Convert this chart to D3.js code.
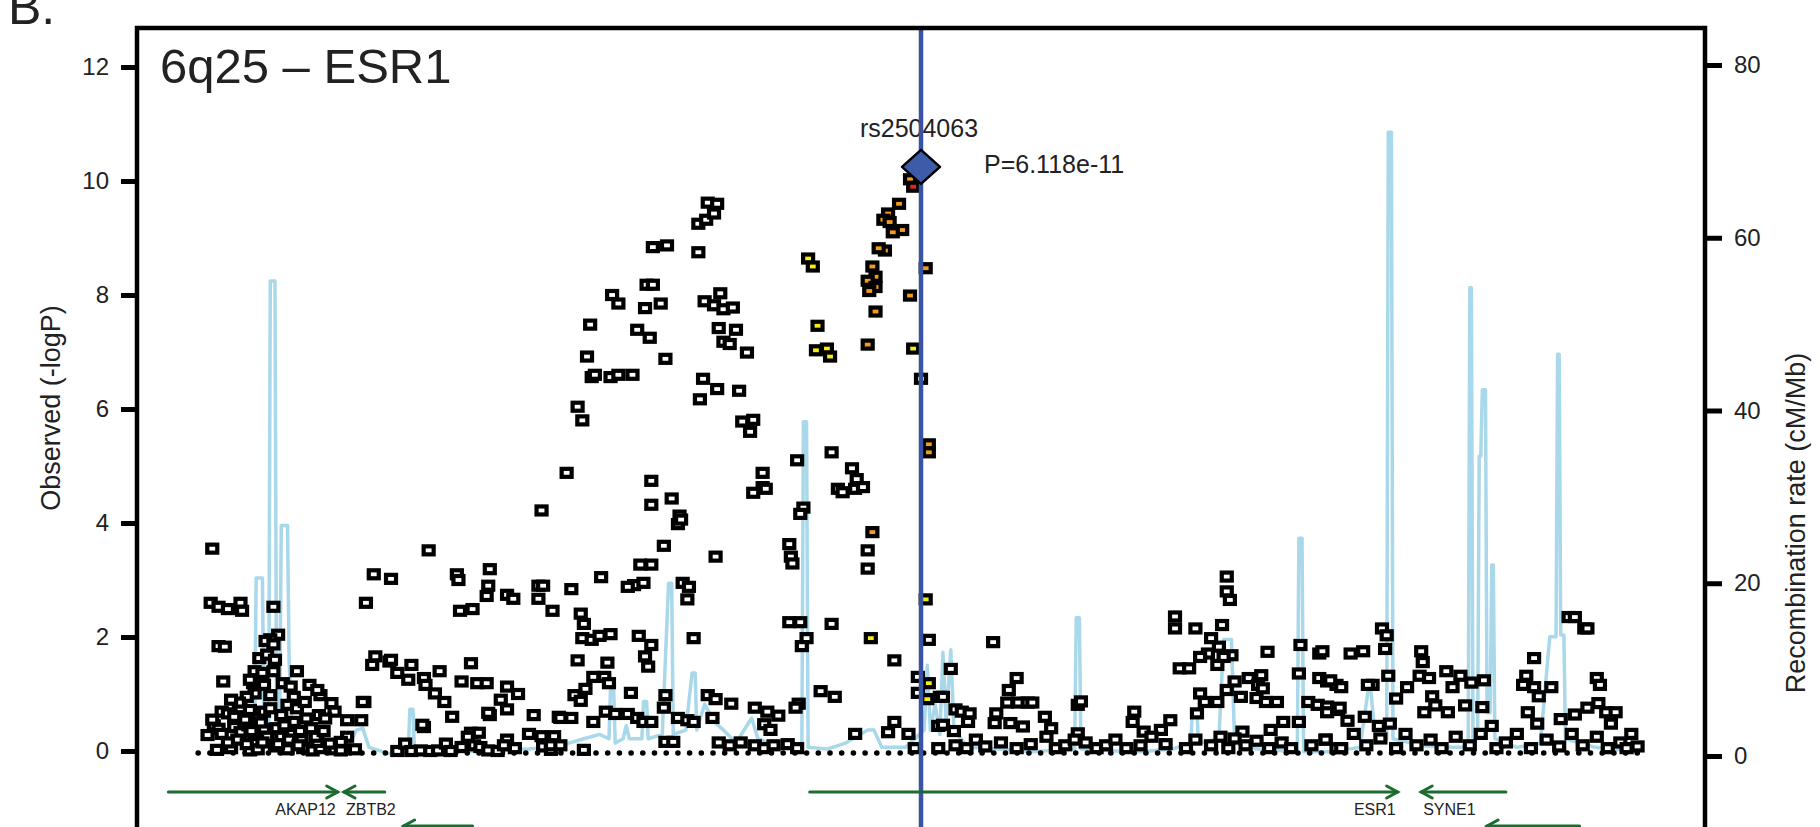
<!DOCTYPE html>
<html><head><meta charset="utf-8">
<script src="https://cdn.jsdelivr.net/npm/d3@7"></script>
<style>body{margin:0;background:#fff} svg{display:block} text{font-family:"Liberation Sans",Arial,Helvetica,sans-serif}</style>
</head><body><svg id="c" width="1820" height="827"></svg>
<script>
// ---- data: position in kb relative to rs2504063, value = -log10(P) ----
const leftTicks = [0,2,4,6,8,10,12];
const rightTicks = [0,20,40,60,80];
const titleText = "6q25 \u2013 ESR1";
const leadSnp = {name:"rs2504063", pos:0, logp:10.213, p:"P=6.118e-11"};

const blackPts = [
[-452,3.55],[-453,2.6],[-448,2.53],[-442,2.49],[-434,2.6],[-433,2.46],[-413,2.53],[-448,1.84],[-444,1.83],[-445,1.22],[-410,2.04],[-415,1.96],[-418,1.93],[-413,1.87],[-422,1.63],[-417,1.69],[-412,1.6],[-425,1.4],[-420,1.37],[-413,1.4],[-426,1.19],[-425,1.01],[-419,1.16],[-407,1.19],[-402,1.13],[-398,1.4],[-400,0.95],[-390,1.16],[-383,0.98],[-385,1.07],[-376,0.84],[-374,0.69],[-366,0.54],[-357,0.54],[-355,0.86],[-415,0.98],[-404,0.81],[-398,0.75],[-393,0.86],[-408,0.63],[-400,0.51],[-392,0.57],[-384,0.63],[-380,0.57],[-446,0.69],[-442,0.66],[-434,0.75],[-428,0.72],[-423,0.57],[-419,0.69],[-415,0.75],[-455,0.28],[-451,0.45],[-448,0.39],[-438,0.42],[-434,0.33],[-429,0.45],[-425,0.28],[-440,0.28],[-419,0.39],[-366,0.25],
[-449,0.02],[-440,0.05],[-428,0.01],[-423,0.03],[-412,0.08],[-404,0.03],[-394,0.05],[-388,0.01],[-383,0.05],[-374,0.03],[-370,0.01],[-361,0.03],
[-408,0.25],[-401,0.3],[-395,0.19],[-385,0.16],[-377,0.13],[-370,0.16],
[-452,0.55],[-446,0.3],[-438,0.6],[-436,0.2],[-431,0.55],[-427,0.35],[-421,0.5],[-417,0.25],[-411,0.4],[-406,0.45],[-403,0.2],[-396,0.35],[-389,0.4],[-386,0.25],[-381,0.35],[-442,0.15],[-430,0.12],[-420,0.15],[-410,0.12],[-397,0.1],[-430,0.95],[-428,1.25],[-435,0.85],[-440,0.9],
[-354,2.6],[-349,3.1],[-338,3.02],[-314,3.52],[-296,3.1],[-295,3.0],[-294,2.46],[-286,2.49],[-275,3.19],[-276,2.9],[-277,2.72],[-264,2.74],[-260,2.67],[-242,4.22],[-244,2.9],[-241,2.9],[-244,2.67],[-235,2.46],[-348,1.66],[-350,1.51],[-339,1.57],[-338,1.6],[-334,1.37],[-327,1.25],[-325,1.51],[-317,1.28],[-316,1.16],[-307,1.4],[-310,1.01],[-304,0.86],[-299,0.6],[-317,0.42],[-293,1.22],[-287,1.54],[-283,1.19],[-277,1.19],[-275,0.63],[-356,0.86],[-264,1.13],[-257,1.0],[-264,0.73],[-268,0.9],[-276,0.67],[-247,0.63],[-231,0.6],[-318,0.46],[-242,0.26],[-234,0.26],[-287,0.32],[-282,0.32],[-264,0.2],
[-334,0],[-329,0.13],[-325,0],[-319,0.01],[-313,0],[-308,0.01],[-303,0.13],[-300,0],[-293,0.07],[-289,0.25],[-285,0.1],[-281,0.07],[-276,0.01],[-270,0],[-266,0.1],[-259,0.05],[-250,0.3],[-241,0.08],[-236,0.02],
[-136,9.62],[-130,9.6],[-142,9.25],[-137,9.32],[-132,9.43],[-142,8.75],[-171,8.84],[-162,8.87],[-197,8.0],[-193,7.85],[-175,8.18],[-171,8.18],[-176,7.77],[-166,7.85],[-211,7.48],[-181,7.39],[-173,7.25],[-213,6.92],[-163,6.88],[-210,6.56],[-208,6.6],[-198,6.56],[-193,6.6],[-184,6.6],[-219,6.04],[-216,5.8],[-226,4.88],[-138,7.89],[-128,8.03],[-132,7.82],[-126,7.75],[-120,7.78],[-129,7.42],[-118,7.39],[-126,7.18],[-122,7.14],[-111,6.99],[-139,6.53],[-130,6.35],[-141,6.17],[-116,6.32],[-114,5.78],[-107,5.81],[-109,5.6],
[0,6.53],
[-57,5.24],[-79,5.1],[-44,4.96],[-41,4.77],[-53,4.6],[-50,4.54],[-42,4.6],[-37,4.63],[-101,4.88],[-101,4.63],[-107,4.53],[-99,4.6],[-75,4.27],[-77,4.16],[-34,3.52],[-34,3.2],[-84,3.63],[-83,3.41],[-82,3.29],[-131,3.41],[-172,4.74],[-172,4.32],[-159,4.43],[-154,4.13],[-155,3.98],[-153,4.06],[-164,3.6],[-179,3.27],[-172,3.27],[-183,2.91],[-177,2.95],[-187,2.88],[-204,3.05],[-223,2.84],[-152,2.95],[-148,2.88],[-149,2.66],[-145,1.98],[-217,2.41],[-215,2.23],[-216,1.98],[-210,1.95],[-205,2.02],[-198,2.05],[-180,2.02],[-172,1.86],[-176,1.66],[-174,1.48],[-219,1.59],[-200,1.55],[-202,1.3],[-199,1.19],[-209,1.3],[-214,1.09],[-221,0.98],[-217,0.88],[-223,0.58],[-230,0.58],[-185,1.02],[-201,0.69],[-195,0.65],[-187,0.65],[-181,0.58],[-177,0.51],[-172,0.51],[-209,0.51],[-163,0.98],[-164,0.76],[-155,0.58],[-149,0.54],[-145,0.51],[-136,0.98],[-131,0.91],[-121,0.83],[-133,0.58],[-106,0.76],[-98,0.69],[-91,0.62],[-100,0.47],[-96,0.37],[-78,0.83],[-80,0.76],[-84,2.26],[-77,2.26],[-73,1.98],[-76,1.84],[-57,2.23],[-64,1.05],[-55,0.95],[-17,1.59],[5,1.95],[19,1.44],[12,0.95],[-2,1.3],[-2,1.02],[11,0.44],[-17,0.51],[-21,0.33],[-8,0.3],[-42,0.3],[22,0.73],[21,0.35],
[-215,0.02],[-163,0.16],[-158,0.16],[-129,0.15],[-122,0.1],[-115,0.15],[-106,0.1],[-100,0.05],[-94,0.1],[-85,0.12],[-79,0.05],[-4,0.05],[11,0.05],[-236,0.1],[-230,0.1],
[46,1.91],[14,0.95],[14,0.46],[61,1.28],[56,1.07],[55,0.85],[62,0.85],[68,0.85],[71,0.85],[26,0.69],[31,0.66],[30,0.51],[48,0.66],[47,0.49],[57,0.49],[65,0.43],[79,0.6],[83,0.4],[100,0.81],[102,0.87],[100,0.31],[136,0.69],[135,0.51],[159,0.54],[153,0.37],[142,0.34],[162,2.36],[162,2.15],[175,2.15],[185,1.98],[192,2.21],[195,3.06],[195,2.8],[197,2.65],[190,1.83],[198,1.68],[183,1.71],[178,1.65],[165,1.45],[171,1.45],[189,1.51],[193,1.65],[178,1.01],[181,0.86],[176,0.66],[189,0.86],[195,1.07],[200,1.22],[204,0.95],[209,1.28],[217,1.33],[215,1.16],[218,1.1],[214,0.93],[220,0.86],[227,0.86],[221,1.74],[242,1.86],[241,1.36],[254,1.71],[254,1.28],[259,1.22],[265,1.16],[247,0.86],[253,0.81],[259,0.78],[266,0.72],[231,0.51],[241,0.51],[223,0.37],[205,0.34],[200,0.22],
[22,0.1],[29,0.05],[35,0.2],[41,0.08],[51,0.15],[61,0.05],[70,0.12],[80,0.25],[86,0.05],[92,0.1],[98,0.2],[105,0.15],[112,0.05],[118,0.1],[124,0.2],[131,0.05],[140,0.1],[147,0.25],[156,0.12],[169,0.05],[175,0.2],[185,0.1],[191,0.25],[196,0.05],[207,0.1],[214,0.18],[222,0.05],[230,0.15],[236,0.05],[249,0.1],[258,0.2],[265,0.05],
[413,2.35],[417,2.35],[423,2.15],[425,2.15],[294,2.15],[297,2.03],[296,1.79],[256,1.75],[274,1.71],[282,1.75],[319,1.75],[320,1.56],[391,1.63],[386,1.32],[391,1.12],[402,1.12],[384,1.16],[394,0.96],[335,1.4],[344,1.32],[351,1.2],[359,1.24],[339,1.12],[298,1.32],[288,1.16],[285,1.16],[268,1.12],[261,1.24],[310,1.12],[318,1.32],[324,1.28],[303,0.92],[431,1.28],[433,1.16],[321,0.68],[326,0.96],[328,0.8],[336,0.68],[347,0.8],[358,0.77],[364,0.44],[259,0.68],[267,0.76],[272,0.53],[283,0.6],[292,0.44],[299,0.48],[387,0.68],[393,0.48],[408,0.56],[417,0.64],[425,0.76],[432,0.84],[437,0.68],[443,0.68],[440,0.48],
[258,0.2],[268,0.05],[276,0.3],[284,0.1],[293,0.22],[303,0.05],[309,0.3],[316,0.1],[325,0.2],[332,0.05],[341,0.25],[350,0.1],[357,0.3],[367,0.05],[373,0.15],[380,0.3],[389,0.05],[399,0.2],[407,0.08],[415,0.3],[422,0.1],[431,0.25],[438,0.05],[446,0.15],[453,0.3],[457,0.08],[450,0.05]
];
const orangePts = [[-7,10.03],[-14,9.6],[-21,9.43],[-24,9.32],[-20,9.28],[-12,9.14],[-18,9.1],[-23,8.78],[-27,8.82],[-31,8.5],[-29,8.32],[-34,8.25],[-29,8.14],[-33,8.07],[-29,7.71],[-34,7.13],[3,8.47],[-7,7.99],[5,5.38],[5,5.24],[-31,3.84]];
const yellowPts = [[-72,8.64],[-69,8.5],[-66,7.46],[-67,7.03],[-60,7.06],[-58,6.92],[-5,7.06],[-32,1.98],[3,2.66],[5,1.19],[4,0.91]];
const redPts = [[-5,9.9]];

// recombination rate (cM/Mb) along the region
const recomb = [[-454,0.5],[-440,1.0],[-430,2.5],[-425,3.0],[-424,20.6],[-420,20.6],[-419,3.5],[-416,3.5],[-415,55],[-412,55],[-411,4],[-409,4],[-408,26.7],[-404,26.7],[-403,11],[-401,3],[-395,1.5],[-380,1.0],[-366,0.8],[-360,3.0],[-356,3.2],[-352,1.0],[-340,0.3],[-327,0.3],[-326,5.4],[-324,5.4],[-323,0.3],[-300,0.5],[-270,0.6],[-250,0.8],[-230,1.2],[-215,2.0],[-205,2.5],[-199,2.0],[-198,7.7],[-196,7.7],[-195,1.5],[-190,2.0],[-188,3.5],[-186,2.0],[-178,2.0],[-177,6.3],[-175,6.3],[-174,2.0],[-165,2.5],[-161,20],[-159,20],[-158,2.5],[-150,3.0],[-146,9.6],[-144,9.6],[-143,3.0],[-138,6.0],[-132,4.0],[-126,3.0],[-118,1.5],[-108,4.4],[-104,2.0],[-90,1.0],[-76,1.0],[-75,38.7],[-73,38.7],[-72,1.0],[-60,0.8],[-48,1.5],[-34,3.0],[-30,3.0],[-25,1.0],[-10,1.0],[2,3.0],[4,10.5],[6,3],[9,6],[12,2.5],[14,12],[16,4],[19,12.3],[21,3],[30,1.0],[50,0.8],[70,0.5],[98,0.8],[99,16],[101,16],[102,0.8],[120,0.6],[140,0.5],[160,0.8],[172,1.5],[173,5],[176,5],[177,1.5],[190,2],[193,13.5],[198,13.5],[200,1.5],[215,0.8],[240,0.5],[241,25.2],[243,25.2],[244,0.5],[260,0.5],[280,1.0],[285,7.4],[287,7.4],[290,1.5],[297,2],[298,72.2],[300,72.2],[301,2],[320,1.2],[340,1],[349,1],[350,54.2],[351,54.2],[352,2],[355,2],[356,34.7],[357,34.7],[358,42.4],[360,42.4],[361,5],[363,5],[364,22.1],[365,22.1],[366,2],[380,1],[395,1.5],[401,13.8],[405,13.8],[406,46.5],[407,46.5],[408,14],[410,14],[411,2],[430,1],[457,0.5]];

// genes (kb)
const geneNames   = ["AKAP12","ZBTB2","","ESR1","SYNE1",""];
const geneStarts  = [-480,-368,-330,-71,319,361];
const geneEnds    = [-372,-342,-286,304,373,420];
const geneStrands = ["+","-","-","+","-","-"];
const geneRows    = [0,0,1,0,0,1];

// ---- drawing ----
const svg = d3.select('#c');
const x = d3.scaleLinear().domain([-500,500]).range([137,1705]);
const y = d3.scaleLinear().domain([0,12]).range([751,67]);
const yr = d3.scaleLinear().domain([0,80]).range([756,65]);
const FONT = '"Liberation Sans",Arial,Helvetica,sans-serif';

// panel letter (cut at top, as in the source figure)
svg.append('text').attr('x',8).attr('y',24).attr('font-size',50).attr('fill','#222').text('B.');

// recombination line
svg.append('path').datum(recomb)
  .attr('d', d3.line().x(d=>x(d[0])).y(d=>yr(d[1])))
  .attr('fill','none').attr('stroke','#a9d8ea').attr('stroke-width',3.5).attr('stroke-linejoin','round');

// dotted baseline
svg.append('line').attr('x1',x(-461)).attr('x2',x(460)).attr('y1',y(0)+2).attr('y2',y(0)+2)
  .attr('stroke','#000').attr('stroke-width',5.5).attr('stroke-linecap','round').attr('stroke-dasharray','0.1 11.6');

// points
function drawPts(data, fill){
  svg.append('g').selectAll('rect').data(data).join('rect')
    .attr('x', d=>x(d[0])-5).attr('y', d=>y(d[1])-4)
    .attr('width',10).attr('height',8)
    .attr('fill',fill).attr('stroke','#000').attr('stroke-width',4.2);
}
drawPts(blackPts,'#fff');
drawPts(yellowPts,'#f6ee12');
drawPts(orangePts,'#f39c1c');
drawPts(redPts,'#e8231d');

// lead SNP labels
const lx = x(leadSnp.pos), ly = y(leadSnp.logp);
svg.append('text').attr('x',lx-2).attr('y',ly-32).attr('text-anchor','middle').attr('font-size',25).attr('fill','#222').text(leadSnp.name);
svg.append('text').attr('x',lx+63).attr('y',ly+4).attr('font-size',25).attr('fill','#222').text(leadSnp.p);

// vertical line at lead SNP
svg.append('line').attr('x1',lx).attr('x2',lx).attr('y1',28).attr('y2',827)
  .attr('stroke','#3953a4').attr('stroke-width',4.5);

// lead diamond
svg.append('path').attr('d',`M${lx},${ly-19}L${lx+19},${ly-2}L${lx},${ly+15}L${lx-19},${ly-2}Z`)
  .attr('fill','#3c5ba9').attr('stroke','#000').attr('stroke-width',2.5).attr('stroke-linejoin','round');

// genes
const rowY = [792, 826];
const gg = svg.append('g').attr('stroke','#1c6b2f').attr('stroke-width',3).attr('fill','none').attr('stroke-linecap','round');
geneNames.forEach((n,i)=>{
  const yy = rowY[geneRows[i]];
  const x1 = x(geneStarts[i]), x2 = x(geneEnds[i]);
  gg.append('line').attr('x1',x1).attr('x2',x2).attr('y1',yy).attr('y2',yy);
  const tip = geneStrands[i]==='+' ? x2 : x1;
  const dir = geneStrands[i]==='+' ? -1 : 1;
  gg.append('path').attr('d',`M${tip+dir*11},${yy-6}L${tip},${yy}L${tip+dir*11},${yy+6}`).attr('stroke-linejoin','miter');
  if(n){
    svg.append('text').attr('x', tip + (geneStrands[i]==='+' ? -2 : 2)).attr('y', yy+23)
      .attr('text-anchor', geneStrands[i]==='+' ? 'end':'start')
      .attr('font-size',16).attr('fill','#222').text(n);
  }
});

// frame
svg.append('path').attr('d','M137,900V28H1705V900').attr('fill','none').attr('stroke','#000').attr('stroke-width',4.5);

// axes
const la = svg.append('g').attr('transform','translate(137,0)')
  .call(d3.axisLeft(y).tickValues(leftTicks).tickSize(16).tickPadding(12));
const ra = svg.append('g').attr('transform','translate(1705,0)')
  .call(d3.axisRight(yr).tickValues(rightTicks).tickSize(17).tickPadding(12));
[la,ra].forEach(a=>{
  a.select('.domain').remove();
  a.selectAll('line').attr('stroke','#000').attr('stroke-width',5);
  a.selectAll('text').attr('font-size',24).attr('font-family',FONT).attr('fill','#222');
});

// axis titles
svg.append('text').attr('transform','translate(60,408) rotate(-90)').attr('text-anchor','middle')
  .attr('font-size',27).attr('fill','#222').text('Observed (-logP)');
svg.append('text').attr('transform','translate(1805,523) rotate(-90)').attr('text-anchor','middle')
  .attr('font-size',27).attr('fill','#222').text('Recombination rate (cM/Mb)');

// title
svg.append('text').attr('x',160).attr('y',83).attr('font-size',49).attr('fill','#222').text(titleText);
</script></body></html>
